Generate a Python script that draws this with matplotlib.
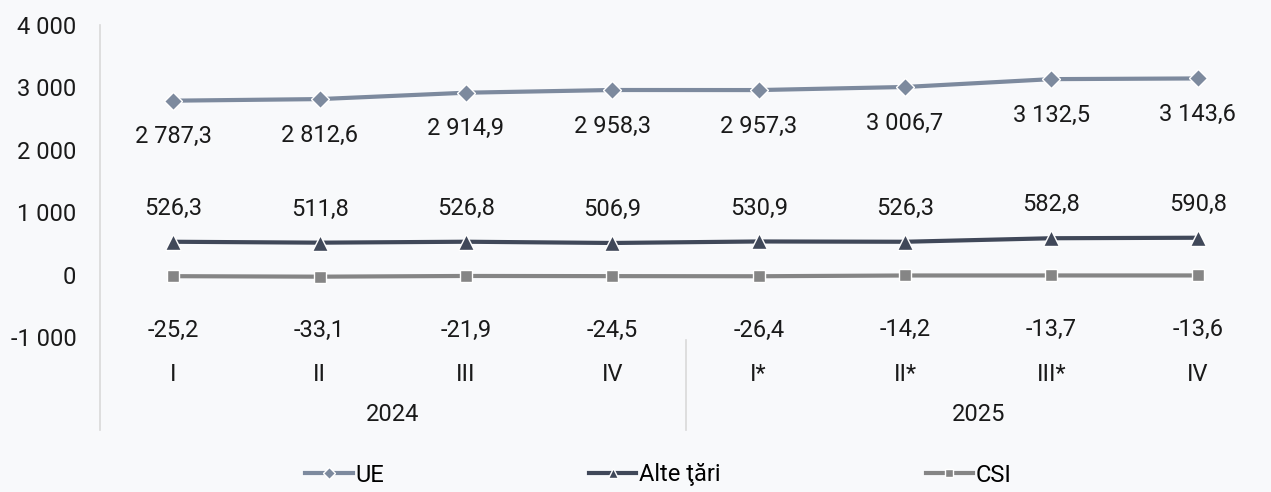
import matplotlib.pyplot as plt
from matplotlib.ticker import FuncFormatter

plt.rcParams['font.family'] = ['Roboto', 'DejaVu Sans']

# date trimestriale
trimestre = ['I', 'II', 'III', 'IV', 'I*', 'II*', 'III*', 'IV']
ani = ['2024', '2025']
ue = [2787.3, 2812.6, 2914.9, 2958.3, 2957.3, 3006.7, 3132.5, 3143.6]
alte_tari = [526.3, 511.8, 526.8, 506.9, 530.9, 526.3, 582.8, 590.8]
csi = [-25.2, -33.1, -21.9, -24.5, -26.4, -14.2, -13.7, -13.6]

bg = '#f8f9fb'
fs = 17


def fmt(v, dec=1):
    s = f'{v:,.{dec}f}'
    return s.replace(',', ' ').replace('.', ',')


fig = plt.figure(figsize=(12.71, 4.92), dpi=100, facecolor=bg)
ax = fig.add_axes([100 / 1271, 155 / 492, 1171 / 1271, 312 / 492])
ax.set_facecolor(bg)

x = list(range(len(trimestre)))
serii = [
    ('UE', ue, '#7d8a9e', 'D', 9, -26),
    ('Alte ţări', alte_tari, '#404859', '^', 11, 24),
    ('CSI', csi, '#858585', 's', 9, -39),
]
for nume, vals, col, mk, ms, dy in serii:
    ax.plot(x, vals, color=col, lw=3, marker=mk, ms=ms, mec='white', mew=1,
            label=nume, zorder=3)
    for xi, v in zip(x, vals):
        ax.annotate(fmt(v), (xi, v), xytext=(0, dy), textcoords='offset points',
                    ha='center', va='center', fontsize=fs, color='#1a1a1a')

ax.set_xlim(-0.5, len(x) - 0.5)
ax.set_ylim(-1000, 4000)
ax.set_yticks(range(-1000, 4001, 1000))
ax.yaxis.set_major_formatter(FuncFormatter(lambda v, p: fmt(v, 0)))
ax.set_xticks(x)
ax.set_xticklabels(trimestre)
ax.tick_params(axis='both', length=0, labelsize=fs, colors='#1a1a1a')
ax.tick_params(axis='y', pad=17)
ax.tick_params(axis='x', pad=19)
for s in ax.spines.values():
    s.set_visible(False)

# linii de grupare pe axa x
trans = ax.get_xaxis_transform()
ax.plot([-0.5, -0.5], [1.0, -0.298], transform=trans, color='#d9d9d9', lw=1.2, clip_on=False)
ax.plot([3.5, 3.5], [-0.01, -0.298], transform=trans, color='#d9d9d9', lw=1.2, clip_on=False)
for i, an in enumerate(ani):
    ax.text(1.5 + 4 * i, -0.248, an, transform=trans, ha='center', va='center',
            fontsize=fs, color='#1a1a1a')

fig.legend(loc='center', bbox_to_anchor=(0.518, 17 / 492), ncol=3, frameon=False,
           fontsize=fs, handlelength=2.0, handletextpad=0.1, columnspacing=8.7,
           markerscale=0.7)

fig.savefig('out.png', dpi=100, facecolor=bg)
